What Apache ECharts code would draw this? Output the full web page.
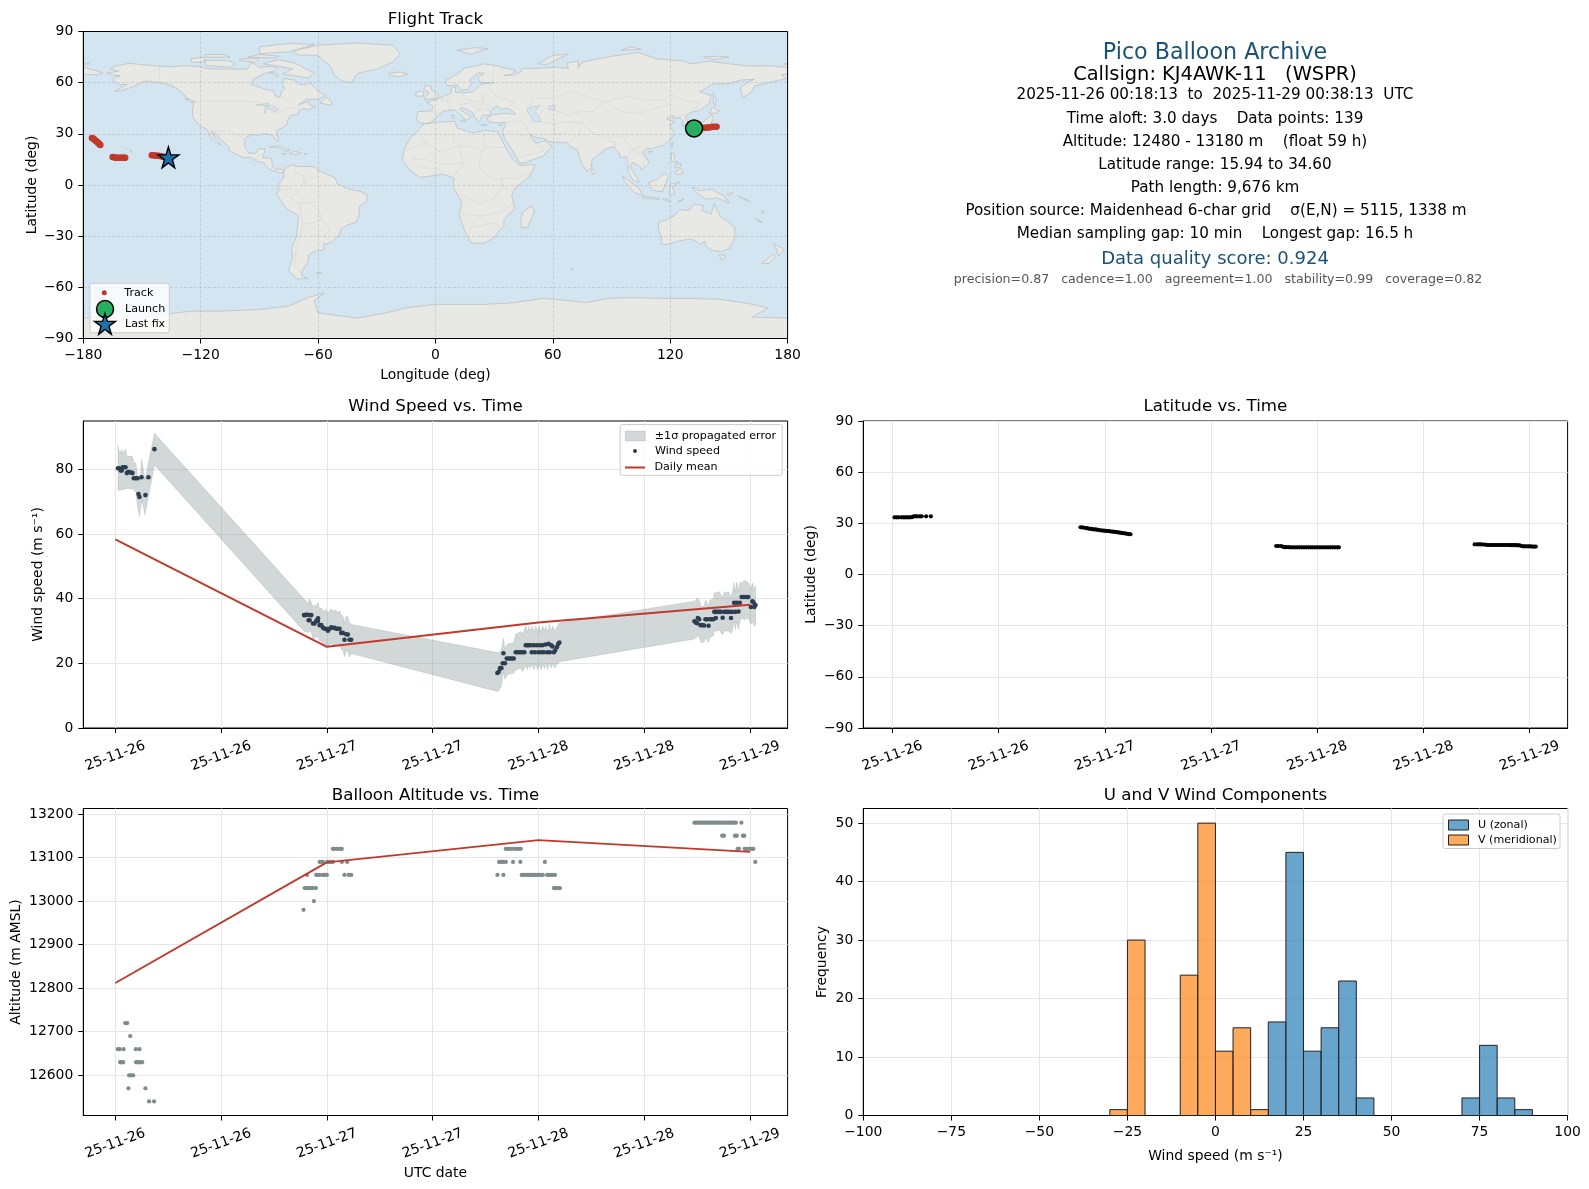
<!DOCTYPE html>
<html><head><meta charset="utf-8">
<style>html,body{margin:0;padding:0;background:#fff}#c{width:1589px;height:1189px}</style>
<script src="https://cdn.jsdelivr.net/npm/echarts@6/dist/echarts.min.js"></script>
</head><body><div id="c"></div>
<script>
// ---------- tick labels ----------
const timeTicks=[0,12,24,36,48,60,72];
const timeTickLabels=['25-11-26','25-11-26','25-11-27','25-11-27','25-11-28','25-11-28','25-11-29'];
const windTicks=[0,20,40,60,80];
const altTicks=[12600,12700,12800,12900,13000,13100,13200];
const freqTicks=[0,10,20,30,40,50];
// ---------- header text ----------
const headerLines=[
 ['Pico Balloon Archive',22.2,'#1a5276'],
 ['Callsign: KJ4AWK-11   (WSPR)',19.4,'#000'],
 ['2025-11-26 00:18:13  to  2025-11-29 00:38:13  UTC',15.2,'#000'],
 ['Time aloft: 3.0 days    Data points: 139',15.2,'#000'],
 ['Altitude: 12480 - 13180 m    (float 59 h)',15.2,'#000'],
 ['Latitude range: 15.94 to 34.60',15.2,'#000'],
 ['Path length: 9,676 km',15.2,'#000'],
 ['Position source: Maidenhead 6-char grid    σ(E,N) = 5115, 1338 m',15.2,'#000'],
 ['Median sampling gap: 10 min    Longest gap: 16.5 h',15.2,'#000'],
 ['Data quality score: 0.924',18,'#1a5276'],
 ['precision=0.87   cadence=1.00   agreement=1.00   stability=0.99   coverage=0.82',12.6,'#555']
];
const headerY=[53,74.5,95.5,119,142.5,165,188,211,234.5,259,279.5];
const headerX=[1215,1215,1215,1215,1215,1215,1215,1216,1215,1215,1218];
// ---------- track ----------
const trackPoints=[[133,33.4],[134.5,33.5],[136,33.5],[137.5,33.5],[138.5,33.6],[139.5,33.7],[140.5,33.9],[141.5,34.1],[142.5,34.1],[143.7,34.2],
 [-175.6,27.6],[-175,27.2],[-174.5,26.8],[-174,26.3],[-173.5,25.8],[-173,25.3],[-172.5,24.8],[-172,24.3],[-171.6,23.8],[-171.3,23.5],
 [-165,16.4],[-164.3,16.2],[-163.5,16],[-162.8,16],[-162,16],[-161.2,16],[-160.5,15.95],[-159.7,15.95],[-159,15.94],[-158.6,15.94],
 [-145,17.5],[-144.2,17.4],[-143.4,17.3],[-142.6,17.2],[-141.8,17.1],[-141,17],[-140.2,16.8],[-139.4,16.6],[-138.6,16.4]];
const launchPoint=[132.2,33.2];
const lastFixPoint=[-136.5,16.2];
// ---------- land outlines (lon,lat) ----------
const northAmerica=[[-168,65.6],[-162,66.8],[-166.5,68.3],[-163,69.8],[-156.5,71.3],[-148,70.4],[-141,69.7],[-135,69.3],[-128,70],[-120,69.3],[-115,68],[-108,68],[-102,68],[-96,68],[-94,72],[-90,69],[-85,69.5],[-81,69],[-82,67],[-87,65.5],[-90,64],[-93,62],[-94.5,59],[-93,58.5],[-88,56.5],[-82.5,55],[-82,52.5],[-79.5,51.3],[-79,54],[-77,56.5],[-78,59],[-77.5,62.5],[-72,61.5],[-70,59],[-66,58.7],[-64.5,60.3],[-62,57.5],[-60,55],[-56,52.5],[-60,50.2],[-66,50.2],[-70,47],[-65,49],[-64.5,47],[-61,46],[-65.5,44],[-67,45],[-70,43.5],[-70,41.7],[-74,40.6],[-75.5,38],[-76,35.3],[-78,33.8],[-81,32],[-81.3,30],[-80,26.8],[-80.5,25.2],[-82,27],[-83,29],[-85,29.7],[-89,30.2],[-90,29.1],[-94,29.6],[-97.3,27.5],[-97.7,22.5],[-95.5,18.8],[-92,18.5],[-90.5,21],[-87,21.4],[-88,17],[-88.6,15.8],[-84,15.8],[-83.3,12],[-83.7,10.7],[-81.5,9],[-79.5,9.5],[-77.3,8.6],[-77.8,7.3],[-80,7.3],[-83,8.3],[-85.7,10],[-87.5,13],[-91.5,14],[-94.5,16.2],[-98,16],[-105,19.8],[-105.5,22],[-109,26],[-112.5,30],[-114.7,31.7],[-113,28],[-110,24],[-109.5,23],[-112,25],[-115,28],[-116,31],[-117.3,33],[-120.5,34.5],[-122.5,37.5],[-124.3,40.3],[-124,46.2],[-123,48.5],[-127,51],[-130,54.5],[-133,57],[-136,58.5],[-140,59.8],[-146,60.8],[-149,60.8],[-152,59],[-155,57.5],[-160,55.5],[-164,54.7],[-160,57.5],[-157.5,59],[-162,59],[-165,61.5],[-164,63],[-161,64],[-165,64.5]];
const greenland=[[-73,78.5],[-60,82],[-40,83.3],[-22,82],[-18,77],[-22,72],[-30,68],[-40,65.3],[-43,60],[-48,61],[-52,65],[-54,70],[-60,76],[-70,76.2]];
const arcticIslands=[
 [[-80,73.5],[-72,71.5],[-66,68],[-62,66],[-65,62.8],[-72,64],[-78,65],[-73,68],[-82,70],[-88,71]],
 [[-117,70],[-105,69],[-102,71],[-106,73],[-118,73]],
 [[-125,72],[-118,72],[-118,75],[-125,74]],
 [[-90,77],[-75,78],[-62,82.5],[-75,83],[-90,81]],
 [[-96,75],[-82,74.5],[-80,75.5],[-90,76.5]],
 [[-117,75],[-105,75],[-108,76.5],[-118,76.5]],
 [[-100,73],[-92,72],[-90,74],[-100,74]],
 [[-85,66],[-81,63.5],[-80,64],[-83,66]],
 [[11,79],[20,80.5],[27,80],[18,76.8]],
 [[52,71],[57,70.7],[68,76.8],[60,76]],
 [[95,79],[105,79.5],[100,81]],
 [[137,75],[145,75.5],[150,75],[142,73.5]],
 [[-180,71],[-178,71.5],[-177,71],[-179,70.8]],
 [[178,71],[180,71],[180,70.8]]
];
const southAmerica=[[-77.3,8.6],[-75.5,10.8],[-72,12],[-71.5,10.8],[-68,11],[-62,10.7],[-60,8.5],[-55,6],[-51.5,4.5],[-50,0.5],[-44,-2.5],[-38.5,-3.7],[-35,-5.5],[-35,-9],[-39,-13],[-39,-18],[-41,-22],[-45,-23.5],[-48.5,-26],[-49,-29],[-53.5,-34],[-57,-34.5],[-57,-38],[-62,-39],[-65,-41],[-65,-45],[-68,-50],[-68.5,-53],[-65,-55],[-71,-55],[-75,-50],[-73,-42],[-73.5,-37],[-71,-30],[-70,-18],[-76,-14],[-81.2,-5.5],[-80,-2.5],[-80,1],[-77.5,4],[-77.5,7.5]];
const africa=[[-6,35.8],[3,37],[10,37.3],[11,33.5],[19,30.5],[25,32],[32,31.3],[32.5,29.9],[35,24],[37.5,18.5],[39.5,15],[43,11.5],[51,12],[48,5],[41,-1.5],[39,-6],[40.5,-14],[35,-20],[35,-24],[32.5,-27],[30,-31],[25,-34],[18.5,-34.3],[15,-27],[12,-17],[13.5,-10],[9,-1],[9.5,4],[4,6.3],[-4,5],[-8,4.5],[-13,8.5],[-17,14.7],[-16,21],[-13,27.5],[-9.5,31]];
const eurasia=[[-5.5,36],[-9,37],[-9.5,38.7],[-9,43],[-2,43.5],[-1,46],[-4.5,48.4],[1.5,50.5],[4,52],[8,54],[8.2,57],[10.5,57.7],[10,54.5],[14,54],[19,54.5],[21,57],[24,59.3],[30,60],[23,60],[21.5,63],[25,65.5],[22,65.8],[17.5,62],[18.5,59.5],[16.5,56],[13,55.5],[11,59],[6,58],[5,61],[11,65],[15,68.5],[25,71],[31,70],[41,67],[38,64.5],[35,64.3],[40,64.5],[44,66.5],[44,68.3],[54,68.5],[60,69],[68,68.5],[67,71.5],[73,72.8],[73,68.5],[75,72],[81,73.5],[90,75.5],[104,77.7],[113,74],[128,72.5],[130,71],[140,72.5],[160,69.7],[170,69.9],[180,69],[180,65],[177,64.7],[179,62.3],[170,60],[163,58],[162,55],[157,51],[155.7,57],[160,60.5],[163,62],[156,61.5],[150,59.5],[142,59.2],[135,54.7],[141,52.5],[140,48],[135,43.7],[130.5,42.5],[127.5,39.8],[129.5,36],[126.5,34.3],[126.5,37.5],[125,39.5],[121.5,39],[122,40.7],[118,39],[120.5,37.5],[122.5,37],[119.5,35],[122,31],[121,28],[117,23.5],[110.5,21.3],[108,21.5],[106,19],[109.3,13],[107,10.5],[105,8.7],[105,10.5],[102,12.5],[100.7,13.4],[99.5,10],[103.3,4],[104,1.3],[101,3],[98.3,8],[98.5,12],[97.5,16.5],[94.5,16],[94,19],[91,22.5],[86.5,21],[82,16.5],[80,15],[79.8,10.5],[77.5,8],[74.5,13],[72.7,20],[72,21],[69,22.5],[67,24.8],[61.5,25],[57,25.7],[56.3,27],[51,28],[48,30],[50,26.5],[51.5,24.5],[56,26],[59.5,22.5],[55,17],[45,12.8],[43,13],[39,21],[35,28],[34.9,29.5],[34.3,31.3],[35.8,35.5],[36,36.7],[30,36.5],[27,37],[26.5,39.5],[29,41],[35,42],[41,41.5],[37.5,45],[33.5,44.5],[31,46.5],[28,43],[28.5,41.2],[24,40.8],[23,38],[22,36.6],[19.5,41],[19,42.5],[13.5,45.5],[12.3,44.3],[16,41.7],[18.4,40.2],[16,38],[12.5,41.5],[10,44],[4,43.4],[3,42],[0,39.5],[-2,36.8]];
const australia=[[114,-22],[114,-26],[115.7,-32],[115,-34.5],[118,-35],[124,-33],[131,-31.5],[135.5,-34.8],[138,-33],[138,-35.5],[141,-38.2],[146,-39],[150,-37.3],[153,-31],[153,-25],[149,-21],[146,-19],[143.5,-14],[142.5,-10.8],[141,-17],[136,-15],[137,-12],[132,-11.3],[129.5,-15],[125,-14.5],[122,-18],[118,-20.5]];
const antarctica=[[180,-78],[162,-77.5],[170,-72],[160,-69.5],[145,-67],[130,-66.5],[115,-66.5],[100,-66],[88,-66.5],[77,-69],[70,-68],[55,-66.5],[40,-69],[25,-70],[10,-70],[0,-70],[-15,-72],[-25,-75],[-40,-78],[-60,-75],[-62,-68],[-57,-63.5],[-65,-66],[-75,-71],[-90,-73],[-110,-74],[-125,-74],[-140,-76],[-155,-78],[-180,-78],[-180,-90],[180,-90]];
const otherIslands=[
 [[-59,47.8],[-53,46.8],[-53,49],[-56,51.5]],[[-128,50.7],[-125,48.6],[-123.5,48.4],[-125,50]],
 [[-85,22],[-80,23],[-74.2,20.2],[-77.5,19.9],[-78,21],[-82,22.5]],[[-74.4,18.5],[-72,20],[-68.5,18.5],[-71.5,17.8]],
 [[-78.3,18.4],[-76.3,18.2],[-77,17.8]],[[-67.2,18.5],[-65.6,18.3],[-66.5,18]],
 [[-156,20.7],[-155,19.7],[-155.7,19],[-156,19.7]],[[-158.2,21.6],[-157.7,21.4],[-158,21.2]],[[-159.8,22.2],[-159.3,22.1],[-159.5,21.8]],
 [[49.5,-12],[50.5,-16],[47,-25],[44,-25],[43.5,-21],[44.5,-16]],
 [[-5.5,50],[1.5,51.3],[1.5,52.8],[-2,55.7],[-2,57.6],[-5,58.6],[-6,56],[-3,54],[-5,52]],[[-10,52],[-6,52.2],[-6,54.5],[-8,55.2],[-10,54]],
 [[-24,65.5],[-18,66.3],[-14,65],[-18.5,63.5],[-22.5,64]],
 [[142,54],[143.5,50],[143,46],[142,48]],
 [[130.9,34],[136,36],[140,40],[141.3,41],[142,39],[140.8,35.6],[136.8,34.5],[135,33.7],[132,34]],[[130,33.5],[131.8,33.5],[131,31],[130,31.5]],[[140,42],[141.5,45.5],[145.3,43.5],[143,42]],[[132.5,34],[134.5,34.2],[134,33],[132.5,33]],
 [[120.2,23],[121.5,25.2],[121,22]],[[108.7,19.5],[110.8,20],[110,18.3]],
 [[120.5,18.5],[122.2,18.3],[122,15],[124,13],[120.7,14]],[[122,7],[125.5,9.7],[126.5,7],[124,6]],[[122.5,11.5],[125.5,12.5],[125,10.2],[122.5,10]],
 [[95.5,5.5],[104,-2],[106,-6],[102,-4.5],[97,1.5]],[[105.5,-6.5],[114.5,-7.7],[114,-8.6],[106,-7.5]],
 [[109,1.5],[113,3],[117,7],[119,5],[117.7,1],[116,-4],[111,-3],[109.3,-0.5]],
 [[119.5,-5.5],[120,0.5],[125,1.5],[121,-1],[122.5,-5]],
 [[131,-1],[135,-3.3],[141,-2.6],[147,-6],[150.5,-10.5],[144,-7.7],[138,-8.3],[133,-4]],
 [[124,-9.5],[127,-8.4],[124,-10.2]],[[116,-8.5],[119,-8.3],[120,-10],[117,-9]],[[149,-5],[152,-4.5],[151,-6.2]],[[155,-6.5],[160,-9],[161,-10],[157,-8]],
 [[80,9.7],[82,7.5],[80.5,6],[79.8,8]],
 [[145,-41],[148,-41],[148,-43],[146,-43.6]],[[172.7,-34.5],[178.5,-37.7],[175.3,-41.5],[174.5,-38]],[[172.5,-40.5],[174,-41.7],[170.5,-46],[166.7,-46],[171,-42]],
 [[69,-49],[70.5,-49.3],[69.8,-49.8]],[[164,-20],[167,-22],[166,-22]],[[167,-15],[168,-16.5],[167.3,-16.5]],[[-61,-51.5],[-58,-51.5],[-59,-52.3]],
 [[-180,69],[-175,67.5],[-170,66],[-173,64.5],[-180,65]],
 [[8.2,41],[9.7,41],[9.5,39],[8.5,39]],[[12.5,38],[15.5,38.2],[15,36.7]],[[23.5,35.5],[26.3,35.2],[24.5,34.9]],[[32.5,35],[34.5,35.6],[33.5,34.7]]
];
const waterBodies=[
 [[47,45],[53,46.5],[51,43],[53,40],[54,37],[50,37.3],[49,40],[47,43]],
 [[58,46.5],[61,46.5],[61,44],[58.5,44]],
 [[-92,47],[-85,47.8],[-84.8,46.5],[-87,46],[-87.5,42],[-85.5,45],[-82,43],[-80,44.5],[-83,46],[-88,46.6]]
];
const borderLines=[
 [[-123,49],[-95,49],[-89,48],[-83,46],[-82.5,42],[-79,43],[-75,45],[-71,45],[-67.5,47]],[[-141,69.6],[-141,60.3],[-135,59],[-130,55]],
 [[-117,32.5],[-108,31.5],[-106,31.7],[-101,29.5],[-97.3,26]],[[-92,14.5],[-91,17],[-88.5,18]],
 [[-72,11.5],[-72,7],[-67.5,6],[-67,1]],[[-60,5],[-64,4],[-67,1],[-70,-4],[-74,-7.5],[-70,-11],[-65,-10],[-60,-14],[-58,-20],[-55,-24],[-54,-27],[-57.5,-30],[-53.5,-33.5]],
 [[-68,-52],[-72,-48],[-71.5,-40],[-70,-32],[-68,-24]],[[-69,-11],[-69,-17],[-68,-23],[-62,-22],[-58,-20]],[[-80,-3.5],[-75,-2],[-70,-4]],
 [[-8,27],[-1.5,22],[3,19],[12,23],[16,23],[24,20],[25,22],[25,31]],[[37,22],[25,22]],[[-17,21],[-13,21],[-5,25],[-8,27]],[[12,23],[14,13],[9,4]],
 [[24,20],[22,11],[27,5],[31,3],[34,4],[42,4],[48,8]],[[34,4],[34,-1],[40,-4]],[[12,-5],[22,-11],[30,-8],[34,-1]],[[12,-17],[24,-18],[33,-16],[40.5,-10.5]],
 [[17,-29],[20,-22],[24,-18]],[[20,-25],[30,-22],[33,-26]],[[-12,15],[-5,15],[3,12],[14,13]],[[-8,10],[-3,10],[2,9],[3,6.5]],[[9,32],[9,26],[12,23]],[[-2,32],[-2,35]],
 [[-2,43],[3,42.5]],[[2,51],[6,49],[8,47.5],[7,44]],[[7,53.5],[6,51],[6,49]],[[14,54],[15,51],[18,49.5],[24,48],[22,44],[28,44]],[[24,54],[24,48],[30,45.5]],[[28,60],[28,56],[31,52],[40,49],[38,47]],[[30,70],[29,61]],[[12,47],[17,48],[20,46],[22,44],[20,42]],
 [[48,46],[50,51],[60,51],[70,55],[80,51],[87,49]],[[87,49],[98,52],[107,50],[117,50],[120,53],[127,50],[135,48],[131,43]],[[87,49],[91,45],[97,42.7],[105,42],[112,45],[119,47],[117,50]],[[53,41],[56,45],[60,44],[68,41],[74,43],[80,43],[87,49]],[[54,37],[61,36],[66,37],[74,37]],
 [[61,36],[61,30],[63,27],[61.5,25]],[[44,38],[46,35],[48,30]],[[36,36.7],[42,37],[44,38]],[[35,29.5],[39,32],[44,29],[48,28.5],[52,23],[55,22],[55,20],[52,19],[45,17],[43,16]],
 [[74,37],[79,32],[81,30],[88,28],[96,28],[98,24],[101,21],[105,23],[108,21.5]],[[74,34],[74,30],[70,27],[68.5,23.8]],[[61,30],[66,30],[70,33],[74,37]],[[100,20],[98,15],[99,11]],[[101,21],[105,18],[107,15],[106,11]],[[124.5,40],[130.5,42.5]],[[92,21],[92,25],[88,26]]
];
const landPolygons=[northAmerica,greenland,southAmerica,africa,eurasia,australia,antarctica].concat(arcticIslands,otherIslands);
// ---------- wind speed (hours since 25-11-26 00:00, m/s) ----------
const windPoints=[[0.3,80.3],[0.48,80.3],[0.62,79.6],[0.74,79.6],[0.87,80.6],[0.93,80.6],[1.16,80.6],[1.31,78.8],[1.45,79.1],[1.57,79.1],[1.76,79],[1.95,78.8],[2.1,77.2],[2.33,77.2],[2.52,77.2],[2.63,72.3],[2.74,71.4],[2.97,77.5],[3.42,72],[3.76,77.5],[4.44,86.2],
 [21.41,34.9],[21.55,34.9],[21.67,35],[21.8,35],[21.93,33.3],[22.05,33.3],[22.1,34.9],[22.24,34.9],[22.43,32.3],[22.6,32.3],[22.8,33.1],[22.99,33.1],[23,33.9],[23.18,31.8],[23.37,31.8],[23.56,31],[23.74,30.7],[23.93,30.7],[24.12,30.1],[24.31,30.7],[24.5,31.1],[24.69,31],[24.88,31],[25.06,30.7],[25.25,30.7],[25.44,30.7],[25.63,29.4],[25.82,29.4],[26,27.3],[26.2,29],[26.38,28.9],[26.57,27.3],[26.76,27.3],
 [43.35,17],[43.5,17.4],[43.65,18.5],[43.8,18.5],[43.95,20],[44.03,23.1],[44.2,20],[44.4,21.5],[44.6,21.5],[44.8,21.5],[45,21.5],[45.2,21.5],[45.43,23.4],[45.6,23.4],[45.8,23.4],[46,23.4],[46.2,23.4],[46.4,23.4],[46.56,25.6],[46.75,25.6],[46.9,25.6],[47.1,25.6],[47.25,23.4],[47.45,25.6],[47.6,23.4],[47.8,25.6],[48,23.4],[48.15,25.6],[48.3,23.4],[48.45,25.6],[48.6,23.4],[48.8,25.8],[49,23.4],[49.15,26],[49.3,23.4],[49.45,25.6],[49.6,25.2],[49.76,23.4],[49.9,24],[50.1,25],[50.25,26],[50.38,26.4],
 [65.7,33],[65.85,32.6],[66,32.4],[66.09,34],[66.24,33.6],[66.4,31.8],[66.6,31.8],[66.8,31.7],[66.95,33.6],[67.1,33.6],[67.3,31.6],[67.45,33.6],[67.65,33.6],[67.86,33.6],[67.95,35.9],[68.1,35.9],[68.13,34],[68.3,35.9],[68.5,35.9],[68.7,35.9],[68.9,34.1],[69.1,35.9],[69.3,35.9],[69.5,35.9],[69.7,35.9],[69.85,34],[70,35.9],[70.2,38.7],[70.35,35.9],[70.5,38.7],[70.7,36],[70.85,38.7],[71.06,40.5],[71.3,40.5],[71.55,40.5],[71.8,40.5],[72.1,37.4],[72.27,39.2],[72.4,38.8],[72.5,37.4],[72.63,38]];
const bandTimes=[0.3,0.49,0.74,0.93,1.16,1.31,1.95,2.1,2.33,2.52,2.74,3,3.38,3.76,4.44,
 21.41,21.86,22.05,22.24,22.43,22.61,22.8,22.99,23.18,23.37,23.56,23.93,24.12,24.31,24.5,24.69,25.06,25.25,25.44,25.63,25.82,26,26.2,26.38,26.57,26.76,
 43.35,43.5,43.8,44.03,44.2,44.5,45.2,45.43,46,46.2,46.56,46.75,46.9,47.1,47.3,47.5,47.7,47.9,48.1,48.3,48.5,48.7,48.85,49.05,49.25,49.45,49.65,49.85,50.05,50.25,50.44,
 65.7,66.09,66.24,66.46,66.8,66.95,67.3,67.45,67.86,67.95,68.3,68.5,68.9,69.1,69.6,69.85,70,70.2,70.35,70.5,70.7,70.85,71.06,71.4,71.8,72.1,72.27,72.5,72.63];
const bandUpper=[87.2,84.9,86,84.9,86.2,84.1,83.9,82,81.9,78.3,75.7,83.1,76.7,81.9,91.1,
 39.9,38.6,40,38.8,37.3,38,37.6,38.8,36.8,37.2,36,36.6,35.2,36.3,36.8,36.2,36.4,35.6,36.2,35,34.6,32.5,34.6,34.2,32.6,32,
 23.3,23.3,24,27.7,24.5,26,26.4,29,29.8,29,31.5,29.5,31.5,30,31.5,29.5,31.5,29.5,31.5,29.5,31.5,30,31.5,29.5,32,30,31.5,30,31,32,32.5,
 39.2,40.2,39.5,37.6,37.6,39.5,37.6,39.5,40,41.8,41.8,42.2,40.2,42,42,40.2,42,45,42,45.2,42.2,45,45,45.6,45,43,44.8,43,43.8];
const bandLower=[73.4,73.6,73.6,73.8,73.8,74.1,73.9,73.6,73.1,68.5,65.4,70.5,65.9,71.6,81.3,
 29.9,29.5,30,29.6,27.5,27.8,28.2,28.2,26.8,27,26,25.6,25,26,26.2,25.6,25.8,25,25.6,24.4,24,22,24,23.6,22,23,
 11.3,11.5,13,17.5,15,16.5,17,18,18.5,17.5,19.5,18,19.5,18.5,19.8,18,19.8,18,19.8,18,19.8,18.3,20,18,20.2,18.5,20,18.5,19.5,20,20.5,
 27.5,28.5,28,26.4,26.5,28,26.4,28,28.5,30,30,30.2,28.8,30,30,29.2,30.2,33,30.5,33,30.5,33,34,33.5,34,32,33,31.5,32];
const windMeanTimes=[0,24,48,72];
const windMeanValues=[58.3,25.1,32.6,38.1];
// ---------- latitude ----------
const latPoints=[[0.23,33.5],[0.45,33.5],[0.7,33.5],[1,33.5],[1.2,33.5],[1.4,33.5],[1.6,33.5],[1.8,33.5],[2,33.5],[2.2,33.6],[2.4,34.1],[2.6,34.1],[2.8,34.1],[3.1,34.1],[3.3,34.1],[3.8,34.1],[4.34,34.1],
 [21.25,27.7],[21.45,27.6],[21.7,27.4],[21.9,27.2],[22.1,27],[22.3,26.8],[22.5,26.7],[22.7,26.5],[22.9,26.4],[23.1,26.3],[23.3,26.1],[23.5,25.9],[23.7,25.8],[23.9,25.7],[24.1,25.6],[24.3,25.5],[24.5,25.4],[24.7,25.2],[24.9,25.1],[25.1,25],[25.3,24.9],[25.5,24.7],[25.7,24.5],[25.9,24.4],[26.1,24.2],[26.3,24.1],[26.5,23.9],[26.7,23.7],[26.9,23.6],
 [43.36,16.7],[43.6,16.7],[43.9,16.7],[44.1,16.3],[44.3,16],[44.5,16],[44.75,16],[45,15.95],[45.25,15.95],[45.5,15.95],[45.75,15.95],[46,15.95],[46.25,15.95],[46.5,15.95],[46.75,15.95],[47,15.95],[47.25,15.95],[47.5,15.95],[47.75,15.95],[48,15.95],[48.25,15.95],[48.5,15.95],[48.75,15.95],[49,15.95],[49.25,15.95],[49.5,15.95],[49.75,15.95],[50,15.95],[50.25,15.95],[50.45,15.95],
 [65.8,17.7],[66.1,17.7],[66.3,17.7],[66.5,17.7],[66.7,17.6],[66.9,17.6],[67.1,17.4],[67.3,17.3],[67.5,17.3],[67.7,17.3],[67.9,17.3],[68.1,17.3],[68.3,17.3],[68.5,17.3],[68.7,17.3],[68.9,17.3],[69.1,17.3],[69.3,17.3],[69.5,17.3],[69.7,17.3],[69.9,17.2],[70.1,17.2],[70.3,17.2],[70.5,17.2],[70.7,17.1],[70.9,17.1],[71.1,16.7],[71.3,16.5],[71.5,16.5],[71.7,16.5],[71.9,16.5],[72.1,16.5],[72.3,16.4],[72.5,16.4],[72.7,16.4]];
// ---------- altitude ----------
const altPoints=[[0.3,12660],[0.48,12660],[0.93,12660],[2.33,12660],[2.74,12660],[0.55,12630],[0.72,12630],[0.89,12630],[2.36,12630],[2.59,12630],[2.82,12630],[3.04,12630],[1.12,12720],[1.35,12720],[1.69,12690],[1.57,12600],[1.8,12600],[2.02,12600],[1.49,12570],[3.42,12570],[3.83,12540],[4.4,12540],
 [24.68,13120],[24.87,13120],[25.1,13120],[25.3,13120],[25.55,13120],[25.7,13120],[23.18,13090],[23.4,13090],[23.55,13090],[24.05,13090],[24.25,13090],[24.48,13090],[24.68,13090],[25.7,13090],[26.31,13090],[21.74,13060],[22.8,13060],[22.95,13060],[23.18,13060],[23.55,13060],[23.74,13060],[24,13060],[26,13060],[26.49,13060],[26.76,13060],[21.48,13030],[21.65,13030],[21.82,13030],[22.05,13030],[22.27,13030],[22.42,13030],[22.76,13030],[22.53,13000],[21.35,12980],
 [44.3,13120],[44.5,13120],[44.73,13120],[44.98,13120],[45.31,13120],[45.52,13120],[45.75,13120],[46,13120],[43.54,13090],[43.77,13090],[44,13090],[44.3,13090],[45.12,13090],[45.95,13090],[48.74,13090],[43.35,13060],[44.03,13060],[46.11,13060],[46.3,13060],[46.5,13060],[46.7,13060],[46.9,13060],[47.1,13060],[47.3,13060],[47.5,13060],[47.7,13060],[47.9,13060],[48.1,13060],[48.3,13060],[48.5,13060],[49,13060],[49.2,13060],[49.42,13060],[49.65,13060],[49.88,13060],[49.76,13030],[49.93,13030],[50.1,13030],[50.27,13030],[50.44,13030],
 [65.7,13180],[65.9,13180],[66.1,13180],[66.3,13180],[66.5,13180],[66.7,13180],[66.9,13180],[67.1,13180],[67.3,13180],[67.5,13180],[67.7,13180],[67.9,13180],[68.1,13180],[68.3,13180],[68.5,13180],[68.7,13180],[68.95,13180],[69.2,13180],[69.4,13180],[69.6,13180],[69.8,13180],[70,13180],[70.2,13180],[70.4,13180],[71.03,13180],[68.85,13150],[69.05,13150],[70.3,13150],[70.5,13150],[71.2,13150],[71.35,13150],[70.6,13120],[70.75,13120],[71.4,13120],[71.6,13120],[71.8,13120],[72,13120],[72.2,13120],[72.39,13120],[72.6,13090]];
const altMeanTimes=[0,24,48,72];
const altMeanValues=[12812,13089,13140,13113];
// ---------- histogram bins [from,to,count] ----------
const uBins=[[15,20,16],[20,25,45],[25,30,11],[30,35,15],[35,40,23],[40,45,3],[70,75,3],[75,80,12],[80,85,3],[85,90,1]];
const vBins=[[-30,-25,1],[-25,-20,30],[-10,-5,24],[-5,0,50],[0,5,11],[5,10,15],[10,15,1]];

const FONT='DejaVu Sans';
const FS=13.9;
const L0=83.3,L1=863.3,W=704.3,H=307,T0=31.5,T1=421,T2=808.5;
const starPath='path://M50 0L61 36L98 36L68 58L79 95L50 73L21 95L32 58L2 36L39 36Z';
const bandFill='rgba(127,140,141,0.35)';
const minus=v=>String(v).replace('-','\u2212');
const timeLabel=h=>timeTickLabels[timeTicks.indexOf(h)]||'';
const gridLine={show:true,lineStyle:{color:'#e6e6e6',width:1}};
const axisLine={show:true,onZero:false,lineStyle:{color:'#000',width:1}};
const tick={show:true,length:5,lineStyle:{color:'#000',width:1}};
const lab={color:'#000',fontFamily:FONT,fontSize:FS,margin:10};
const nameStyle={color:'#000',fontFamily:FONT,fontSize:FS};
function timeAxis(gi,min,max,name){
  return {type:'value',gridIndex:gi,min,max,name:name||'',nameLocation:'middle',nameGap:51,nameTextStyle:nameStyle,nameMoveOverlap:false,
   axisLine,axisTick:Object.assign({},tick,{customValues:timeTicks}),splitLine:gridLine,
   axisLabel:Object.assign({},lab,{customValues:timeTicks,rotate:20,align:'center',verticalAlign:'middle',margin:28,formatter:timeLabel})};
}
function valAxis(gi,min,max,name,gap,extra){
  return Object.assign({type:'value',gridIndex:gi,min,max,name,nameLocation:'middle',nameGap:gap,nameRotate:90,nameTextStyle:nameStyle,nameMoveOverlap:false,
   axisLine,axisTick:tick,splitLine:gridLine,axisLabel:Object.assign({},lab,{formatter:minus})},extra||{});
}
function customTicks(values){
  return {axisTick:Object.assign({},tick,{customValues:values}),axisLabel:Object.assign({},lab,{customValues:values,formatter:minus})};
}
const grids=[
 {left:L0,top:T0,width:W,height:H,show:true,backgroundColor:'#d3e5f1',borderWidth:0},
 {left:L0,top:T1,width:W,height:H,show:true,borderColor:'#000',borderWidth:1},
 {left:L1,top:T1,width:W,height:H,show:true,borderColor:'#000',borderWidth:1},
 {left:L0,top:T2,width:W,height:H,show:true,borderColor:'#000',borderWidth:1},
 {left:L1,top:T2,width:W,height:H,show:true,borderColor:'#000',borderWidth:1}
];
const dashed={show:true,lineStyle:{color:'rgba(130,130,130,0.3)',width:0.8,type:'dashed'}};
const xAxes=[
 {type:'value',gridIndex:0,min:-180,max:180,interval:60,z:3,name:'Longitude (deg)',nameLocation:'middle',nameGap:30,nameTextStyle:nameStyle,nameMoveOverlap:false,axisLine,axisTick:tick,splitLine:dashed,axisLabel:Object.assign({},lab,{formatter:minus})},
 timeAxis(1,-3.63,76.27),
 timeAxis(2,-3.3,76.3),
 timeAxis(3,-3.63,76.27,'UTC date'),
 {type:'value',gridIndex:4,min:-100,max:100,interval:25,name:'Wind speed (m s\u207B\u00B9)',nameLocation:'middle',nameGap:34,nameTextStyle:nameStyle,nameMoveOverlap:false,axisLine,axisTick:tick,splitLine:gridLine,axisLabel:Object.assign({},lab,{formatter:minus})}
];
const yAxes=[
 valAxis(0,-90,90,'Latitude (deg)',44,{interval:30,z:3,splitLine:dashed}),
 valAxis(1,0,94.9,'Wind speed (m s\u207B\u00B9)',38,customTicks(windTicks)),
 valAxis(2,-90,90,'Latitude (deg)',45,{interval:30}),
 valAxis(3,12507.7,13212.6,'Altitude (m AMSL)',60,customTicks(altTicks)),
 valAxis(4,0,52.5,'Frequency',34,customTicks(freqTicks))
];
function polyRender(rings,style){
  return function(p,api){
    const ring=rings[p.dataIndex];
    return {type:'polygon',shape:{points:ring.map(c=>api.coord(c))},style:style};
  };
}
const landStyle={fill:'#e8e8e4',stroke:'#bcc1c3',lineWidth:0.8};
const waterStyle={fill:'#d3e5f1',stroke:'#bcc1c3',lineWidth:0.6};
function binSeries(name,bins,fill){
  return {type:'custom',name,xAxisIndex:4,yAxisIndex:4,z:3,data:bins,itemStyle:{color:fill},
   encode:{x:[0,1],y:2},
   renderItem:(p,api)=>{
     const a=api.coord([api.value(0),api.value(2)]),b=api.coord([api.value(1),0]);
     return {type:'rect',shape:{x:a[0],y:a[1],width:b[0]-a[0],height:b[1]-a[1]},style:{fill,stroke:'#222',lineWidth:1}};
   }};
}
const series=[
 {type:'custom',name:'land',xAxisIndex:0,yAxisIndex:0,z:1,clip:true,silent:true,data:landPolygons.map((r,i)=>[r[0][0],r[0][1],i]),renderItem:polyRender(landPolygons,landStyle)},
 {type:'custom',name:'lakes',xAxisIndex:0,yAxisIndex:0,z:1,clip:true,silent:true,data:waterBodies.map((r,i)=>[r[0][0],r[0][1],i]),renderItem:polyRender(waterBodies,waterStyle)},
 {type:'custom',name:'borders',xAxisIndex:0,yAxisIndex:0,z:1,clip:true,silent:true,data:borderLines.map((r,i)=>[r[0][0],r[0][1],i]),
  renderItem:(p,api)=>({type:'polyline',shape:{points:borderLines[p.dataIndex].map(c=>api.coord(c))},style:{fill:'none',stroke:'#dbdbd7',lineWidth:0.8}})},
 {type:'scatter',name:'Track',xAxisIndex:0,yAxisIndex:0,z:5,symbolSize:6.5,itemStyle:{color:'#c0392b',opacity:1},data:trackPoints},
 {type:'scatter',name:'Launch',xAxisIndex:0,yAxisIndex:0,z:6,symbolSize:17,itemStyle:{color:'#27ae60',borderColor:'#000',borderWidth:1.5,opacity:1},data:[launchPoint]},
 {type:'scatter',name:'Last fix',xAxisIndex:0,yAxisIndex:0,z:6,symbol:starPath,symbolSize:21,itemStyle:{color:'#1f6fa8',borderColor:'#000',borderWidth:1.4,opacity:1},data:[lastFixPoint]},
 {type:'custom',name:'\u00B11\u03C3 propagated error',xAxisIndex:1,yAxisIndex:1,z:2,silent:true,itemStyle:{color:bandFill},
  data:bandTimes.map((t,i)=>[t,bandLower[i],bandUpper[i]]),encode:{x:0,y:[1,2]},
  renderItem:(p,api)=>{
    if(p.dataIndex!==0) return null;
    const up=bandTimes.map((t,i)=>api.coord([t,bandUpper[i]]));
    const lo=bandTimes.map((t,i)=>api.coord([t,bandLower[i]])).reverse();
    return {type:'polygon',shape:{points:up.concat(lo)},style:{fill:bandFill,stroke:bandFill,lineWidth:0.6}};
  }},
 {type:'scatter',name:'Wind speed',xAxisIndex:1,yAxisIndex:1,z:4,symbolSize:4.6,itemStyle:{color:'#2c3e50',opacity:1},data:windPoints},
 {type:'line',name:'Daily mean',xAxisIndex:1,yAxisIndex:1,z:5,showSymbol:false,symbol:'none',lineStyle:{color:'#c0392b',width:1.9},itemStyle:{color:'#c0392b'},data:windMeanTimes.map((t,i)=>[t,windMeanValues[i]])},
 {type:'scatter',name:'Latitude',xAxisIndex:2,yAxisIndex:2,z:4,symbolSize:4.2,itemStyle:{color:'#000',opacity:1},data:latPoints},
 {type:'scatter',name:'Altitude',xAxisIndex:3,yAxisIndex:3,z:4,symbolSize:4.3,itemStyle:{color:'#7f8c8d',opacity:1},data:altPoints},
 {type:'line',name:'Altitude daily mean',xAxisIndex:3,yAxisIndex:3,z:5,showSymbol:false,symbol:'none',lineStyle:{color:'#c0392b',width:1.9},data:altMeanTimes.map((t,i)=>[t,altMeanValues[i]])},
 binSeries('U (zonal)',uBins,'rgba(31,119,180,0.67)'),
 binSeries('V (meridional)',vBins,'rgba(255,127,14,0.67)')
];
const LFS=11.1;
function oneLegend(name,left,cy,iw,ih,pad,icon,style){
  return {show:true,selectedMode:false,z:101,padding:0,left,top:cy-Math.max(ih,13)/2,itemWidth:iw,itemHeight:ih,
    textStyle:{fontFamily:FONT,fontSize:LFS,color:'#000',padding:[0,0,0,pad]},
    data:[{name,icon,itemStyle:style}]};
}
const legends=[
 oneLegend('Track',101.8,293.8,5,5,12.5,'circle',{color:'#c0392b',borderWidth:0}),
 oneLegend('Launch',95.8,308.3,17,17,6.5,'circle',{color:'#27ae60',borderColor:'#000',borderWidth:1.5}),
 oneLegend('Last fix',93.8,323.3,21,21,4.5,starPath,{color:'#1f6fa8',borderColor:'#000',borderWidth:1.4}),
 oneLegend('\u00B11\u03C3 propagated error',625,437,20,10,4.5,'rect',{color:bandFill,borderColor:bandFill,borderWidth:0.6}),
 oneLegend('Wind speed',633,452,4,4,13,'circle',{color:'#2c3e50',borderWidth:0}),
 oneLegend('Daily mean',625,468.5,20,2,4.5,'rect',{color:'#c0392b',borderWidth:0}),
 oneLegend('U (zonal)',1448,826,20,10,4.5,'rect',{color:'rgba(31,119,180,0.67)',borderColor:'#222',borderWidth:1}),
 oneLegend('V (meridional)',1448,841,20,10,4.5,'rect',{color:'rgba(255,127,14,0.67)',borderColor:'#222',borderWidth:1})
];
const frame={fill:'rgba(255,255,255,0.8)',stroke:'#ccc',lineWidth:1};
const graphic=[
 {type:'rect',z:10,silent:true,shape:{x:L0,y:T0,width:W,height:H},style:{fill:'none',stroke:'#000',lineWidth:1}},
 {type:'rect',z:100,silent:true,shape:{x:90,y:283.3,width:79.3,height:49.5,r:2},style:frame},
 {type:'rect',z:100,silent:true,shape:{x:620.2,y:424.6,width:162,height:50.7,r:2},style:frame},
 {type:'rect',z:100,silent:true,shape:{x:1443,y:814,width:117,height:34.5,r:2},style:frame}
];
function headTitle(text,x,y,size,color){
  return {text,left:x,top:y,padding:0,textAlign:'center',textVerticalAlign:'middle',textStyle:{fontFamily:FONT,fontSize:size,fontWeight:'normal',color}};
}
const titles=[
 headTitle('Flight Track',L0+W/2,19.5,16.67,'#000'),
 headTitle('Wind Speed vs. Time',L0+W/2,407,16.67,'#000'),
 headTitle('Latitude vs. Time',L1+W/2,407,16.67,'#000'),
 headTitle('Balloon Altitude vs. Time',L0+W/2,796,16.67,'#000'),
 headTitle('U and V Wind Components',L1+W/2,796,16.67,'#000')
].concat(headerLines.map((l,i)=>headTitle(l[0],headerX[i],headerY[i],l[1],l[2])));
const chart=echarts.init(document.getElementById('c'),null,{renderer:'canvas',width:1589,height:1189});
chart.setOption({animation:false,backgroundColor:'#fff',title:titles,grid:grids,xAxis:xAxes,yAxis:yAxes,legend:legends,series,graphic,tooltip:{show:false}});
</script></body></html>
